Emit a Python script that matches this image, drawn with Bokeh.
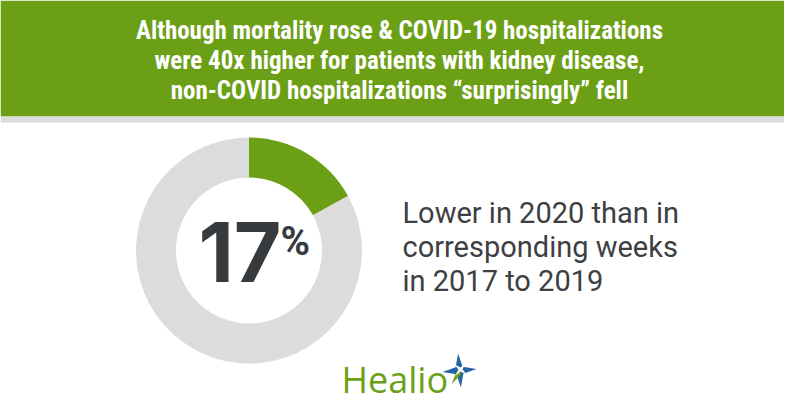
import numpy as np
from bokeh.plotting import figure
from bokeh.models import Range1d
from bokeh.embed import file_html
from bokeh.resources import INLINE
from bokeh.core.properties import value

# ---- data ----
title_lines = [
    "Although mortality rose & COVID-19 hospitalizations",
    "were 40x higher for patients with kidney disease,",
    "non-COVID hospitalizations \u201csurprisingly\u201d fell",
]
categories = ["Lower in 2020", "Remainder"]
shares = [17, 83]
big_number = "17"
pct_sign = "%"
desc_lines = ["Lower in 2020 than in", "corresponding weeks", "in 2017 to 2019"]
brand = "Healio"

GREEN = "#6ba016"
GRAY = "#dcdcdc"
DARK = "#383b3e"
W, H = 800, 420
K = 0.35  # baseline correction (fraction of font size)

p = figure(width=784, height=404, x_range=Range1d(0, 784), y_range=Range1d(16, 420),
           output_backend="svg", toolbar_location=None, min_border=0,
           x_axis_type=None, y_axis_type=None)
p.grid.visible = False
p.outline_line_color = None
p.background_fill_color = "white"
p.border_fill_color = "white"

def iy(y):
    return H - y

def ty(base, size):
    return H - (base - K * size)

# header
p.quad(left=0, right=W, bottom=iy(116), top=H, fill_color=GREEN, line_color=None)
p.quad(left=0, right=W, bottom=iy(122), top=iy(116), fill_color=GRAY, line_color=None)
hs = 25
p.text(x=[399] * 3, y=[ty(38.5, hs), ty(68.5, hs), ty(98.5, hs)], text=title_lines,
       text_font=value("Roboto Condensed, Liberation Sans Narrow, DejaVu Sans Condensed, sans-serif"),
       text_font_size=f"{hs}px", text_font_style="bold", text_color="white",
       text_align="center", text_baseline="alphabetic")

# donut
cx, cy = 248.5, iy(250)
fr = np.array(shares, dtype=float) / sum(shares)
cum = np.cumsum(fr)
starts = 90 - 360 * np.concatenate([[0], cum[:-1]])
ends = 90 - 360 * cum
p.annular_wedge(x=[cx] * 2, y=[cy] * 2, inner_radius=73, outer_radius=113,
                start_angle=list(starts), end_angle=list(ends), start_angle_units="deg",
                end_angle_units="deg", direction="clock",
                fill_color=[GREEN, GRAY], line_color=None)

ns = 82
p.text(x=[281], y=[ty(280, ns)], text=[big_number], text_font=value("Inter"),
       text_font_size=f"{ns}px", text_font_style="bold", text_color=DARK,
       text_align="right", text_baseline="alphabetic")
ps = 40
p.text(x=[280], y=[ty(255, ps)], text=[pct_sign], text_font=value("Roboto"),
       text_font_size=f"{ps}px", text_font_style="bold", text_color=DARK,
       text_align="left", text_baseline="alphabetic")

# description
ds = 29
p.text(x=[402] * 3, y=[ty(223, ds), ty(257, ds), ty(291, ds)], text=desc_lines,
       text_font=value("Roboto"), text_font_size=f"{ds}px", text_color="#3d4043",
       text_align="left", text_baseline="alphabetic")

# logo (star first, text on top)
def star(cx_, cy_, r_out, r_in, rot, n=4):
    ang = np.deg2rad(rot + np.arange(2 * n) * 180.0 / n)
    r = np.where(np.arange(2 * n) % 2 == 0, r_out, r_in)
    return list(cx_ + r * np.cos(ang)), list(cy_ + r * np.sin(ang))

sx, sy = 459, iy(370)
bx, by = star(sx, sy, 17, 5, 95)
p.patch(bx, by, fill_color="#2563a6", line_color=None)
gx, gy = [sx - 3, sx + 2, sx - 8], [sy - 1, sy - 3, sy - 14]
p.patch(gx, gy, fill_color=GREEN, line_color=None)
wx, wy = star(sx + 1, sy + 1, 8, 2, 50)
p.patch(wx, wy, fill_color="white", line_color=None)

bs = 36
p.text(x=[341], y=[ty(392, bs)], text=[brand], text_font=value("Open Sans"),
       text_font_size=f"{bs}px", text_color=GREEN, text_align="left", text_baseline="alphabetic")

open("out.html", "w").write(file_html(p, INLINE))
